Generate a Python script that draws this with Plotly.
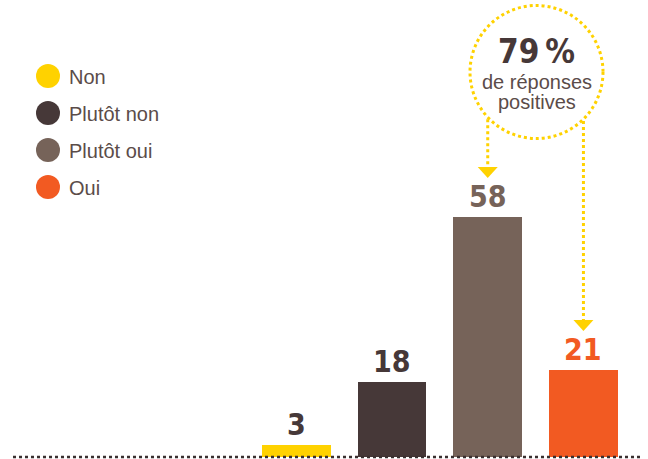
import math
import plotly.graph_objects as go

# ---- data ----
categories = ["Non", "Plutôt non", "Plutôt oui", "Oui"]
values = [3, 18, 58, 21]
bar_colors = ["#FFD200", "#463838", "#766359", "#F25A22"]
label_colors = ["#463838", "#463838", "#766359", "#F25A22"]
callout_value = "79\u2009%"
callout_lines = ["de réponses", "positives"]
callout_targets = [2, 3]  # Plutôt oui + Oui

# ---- layout geometry ----
W, H = 648, 459
ML, MR, MT, MB = 12, 8, 0, 0
PW, PH = W - ML - MR, H - MT - MB
BASE = 457          # pixel row of value 0
SCALE = 4.14        # pixels per unit
XR = [-2.971, 3.591]
YR = [-(H - BASE) / SCALE, BASE / SCALE]

TEXT = "#5b4c49"
YELLOW = "#FFD200"
NUM_FONT = "Liberation Sans Narrow, DejaVu Sans Condensed, Arial Narrow, sans-serif"
TXT_FONT = "Liberation Sans, Arial, sans-serif"


def pxx(x):
    return (x - ML) / PW


def pxy(y):
    return (H - MB - y) / PH


def dx_to_px(i):
    return ML + (i - XR[0]) / (XR[1] - XR[0]) * PW


def dy_to_px(v):
    return BASE - v * SCALE


fig = go.Figure()
fig.add_trace(go.Bar(
    x=list(range(len(categories))), y=values,
    marker=dict(color=bar_colors, line=dict(width=0)),
    width=0.72, hoverinfo="skip", showlegend=False,
))

annotations = []
shapes = []

# value labels
for i, (v, c) in enumerate(zip(values, label_colors)):
    annotations.append(dict(
        x=i, y=v, xref="x", yref="y", text=f"<b>{v}</b>", showarrow=False,
        yanchor="bottom", yshift=1,
        font=dict(family=NUM_FONT, size=30, color=c),
    ))

# legend (circles + labels)
leg_y0, leg_dy = 76, 37
for k, (name, col) in enumerate(zip(categories, bar_colors)):
    cy = leg_y0 + k * leg_dy
    shapes.append(dict(type="circle", xref="paper", yref="paper",
                       x0=pxx(36), x1=pxx(60), y0=pxy(cy - 12), y1=pxy(cy + 12),
                       fillcolor=col, line=dict(width=0), layer="above"))
    annotations.append(dict(x=pxx(67), y=pxy(cy + 1), xref="paper", yref="paper",
                            text=name, showarrow=False, xanchor="left", yanchor="middle",
                            font=dict(family=TXT_FONT, size=20, color=TEXT)))

# baseline
shapes.append(dict(type="line", xref="paper", yref="y", x0=pxx(13), x1=pxx(641), y0=0, y1=0,
                   line=dict(color="#3a3030", width=2.5, dash="dot"), layer="above"))

# callout circle
ccx, ccy, cr = 536.5, 72, 66.5
shapes.append(dict(type="circle", xref="paper", yref="paper",
                   x0=pxx(ccx - cr), x1=pxx(ccx + cr), y0=pxy(ccy + cr), y1=pxy(ccy - cr),
                   line=dict(color=YELLOW, width=3, dash="dot")))
annotations.append(dict(x=pxx(ccx), y=pxy(52), xref="paper", yref="paper",
                        text=f"<b>{callout_value}</b>", showarrow=False,
                        xanchor="center", yanchor="middle",
                        font=dict(family=NUM_FONT, size=33, color="#463838")))
for j, line in enumerate(callout_lines):
    annotations.append(dict(x=pxx(ccx), y=pxy(82 + j * 20), xref="paper", yref="paper",
                            text=line, showarrow=False, xanchor="center", yanchor="middle",
                            font=dict(family=TXT_FONT, size=20, color=TEXT)))

# dotted arrows from circle to target bars
for t in callout_targets:
    ax = dx_to_px(t)
    start = ccy + math.sqrt(max(cr ** 2 - (ax - ccx) ** 2, 0)) + 2
    tip = dy_to_px(values[t]) - 39
    top = tip - 11
    shapes.append(dict(type="line", xref="paper", yref="paper",
                       x0=pxx(ax), x1=pxx(ax), y0=pxy(start), y1=pxy(top),
                       line=dict(color=YELLOW, width=3, dash="dot")))
    shapes.append(dict(type="path", xref="paper", yref="paper",
                       path=f"M {pxx(ax - 10)},{pxy(top)} L {pxx(ax + 10)},{pxy(top)} L {pxx(ax)},{pxy(tip)} Z",
                       fillcolor=YELLOW, line=dict(width=0)))

fig.update_layout(
    width=W, height=H,
    margin=dict(l=ML, r=MR, t=MT, b=MB),
    paper_bgcolor="white", plot_bgcolor="white",
    xaxis=dict(range=XR, visible=False, fixedrange=True),
    yaxis=dict(range=YR, visible=False, fixedrange=True),
    shapes=shapes, annotations=annotations,
    showlegend=False, bargap=0,
)

fig.write_html("out.html", config={"displayModeBar": False},
               post_script="document.body.style.margin='0';document.body.style.overflow='hidden';")
